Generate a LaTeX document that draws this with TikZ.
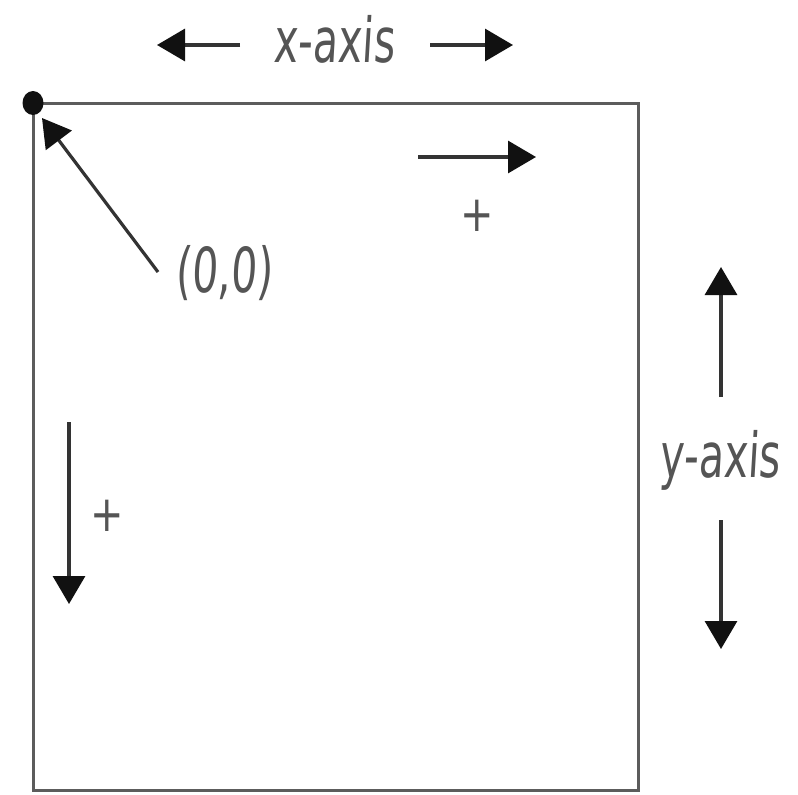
\documentclass[tikz,border=0pt]{standalone}
\usepackage{fontspec}
\newfontfamily\hand[FakeStretch=0.66,FakeSlant=0.06]{DejaVu Sans}
\newfontfamily\handplain[FakeStretch=0.8]{DejaVu Sans}
\usetikzlibrary{arrows.meta}
\definecolor{inkline}{HTML}{333333}
\definecolor{inkhead}{HTML}{111111}
\definecolor{inktext}{HTML}{555555}
\definecolor{boxline}{HTML}{5C5C5C}
\tikzset{
  arr/.style={draw=inkline, line width=3.2pt, -{Triangle[length=28pt,width=32pt,color=inkhead,fill=inkhead]}},
  hand/.style={font=\hand\fontsize{62}{62}\selectfont, text=inktext, inner sep=0pt},
  plus/.style={font=\handplain\fontsize{50}{50}\selectfont, text=inktext, inner sep=0pt},
}
\begin{document}
\begin{tikzpicture}[x=1pt,y=-1pt]
\useasboundingbox[fill=white] (0,0) rectangle (798,795);
% frame
\coordinate (tl) at (33,103);
\coordinate (br) at (638,790);
\draw[draw=boxline, line width=3pt] (tl) rectangle (br);
\fill[inkhead] (tl) ellipse [x radius=10.5pt, y radius=12pt];
% origin label
\node[hand, anchor=base] (orig) at (224,292) {(0,0)};
\coordinate (origtail) at (158,272);
\coordinate (origtip) at (42,118);
\draw[arr] (origtail) -- (origtip);
% x-axis
\node[hand, anchor=base] (xlab) at (334,62) {x-axis};
\coordinate (xl1) at (240,45);
\coordinate (xl2) at (157,45);
\coordinate (xr1) at (430,45);
\coordinate (xr2) at (513,45);
\draw[arr] (xl1) -- (xl2);
\draw[arr] (xr1) -- (xr2);
% +x direction
\coordinate (px1) at (418,157);
\coordinate (px2) at (536,157);
\draw[arr] (px1) -- (px2);
\node[plus] (pxplus) at (477,216) {+};
% +y direction
\coordinate (py1) at (69,422);
\coordinate (py2) at (69,604);
\draw[arr] (py1) -- (py2);
\node[plus] (pyplus) at (107,516) {+};
% y-axis
\node[hand, anchor=base] (ylab) at (720,477) {y-axis};
\coordinate (yu1) at (721,397);
\coordinate (yu2) at (721,267);
\coordinate (yd1) at (721,520);
\coordinate (yd2) at (721,649);
\draw[arr] (yu1) -- (yu2);
\draw[arr] (yd1) -- (yd2);
\end{tikzpicture}
\end{document}
